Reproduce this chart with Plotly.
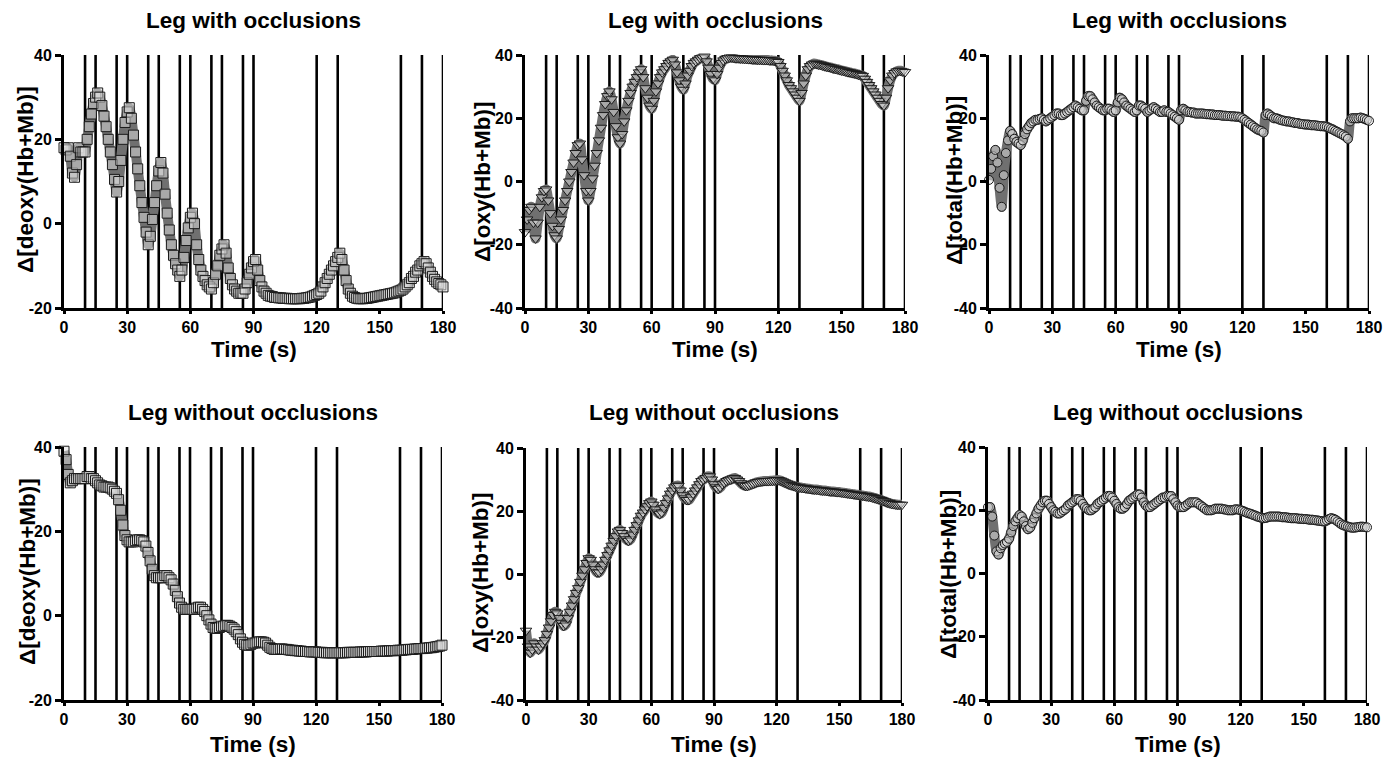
import plotly.graph_objects as go

# ---------------- data ----------------
TIME_S = list(range(0, 181))
OCCLUSION_TIMES = [10, 15, 25, 30, 40, 45, 55, 60, 70, 75, 85, 90, 120, 130, 160, 170, 180]
X_TICKS = [0, 30, 60, 90, 120, 150, 180]

DEOXY_WITH = [
    18, 17.5, 18, 16, 12, 11, 14, 18, 17, 17,
    17, 20, 23, 26, 28.5, 30, 31, 30, 28, 25.5,
    23, 20, 17, 14, 10.5, 7.5, 10, 15, 20, 24,
    26.5, 27.5, 25, 21, 17, 13, 9, 5, 1.5, -2,
    -5, -3, 1, 5, 9, 12.5, 14.5, 12, 7, 2.5,
    -1.5, -5, -7.5, -9.5, -11, -12.5, -11, -8, -4, -1,
    1.5, 2.5, 0, -5, -8.5, -11, -12.5, -13.5, -14.5, -15,
    -15.5, -14, -12, -10, -7.5, -6, -5, -7, -10.5, -13,
    -14.5, -15.5, -16, -16.5, -16.5, -16.5, -15.5, -14, -12, -10.5,
    -9, -8.5, -11, -13.5, -15, -16, -16.5, -17, -17.2, -17.3,
    -17.5, -17.5, -17.6, -17.6, -17.7, -17.7, -17.7, -17.8, -17.8, -17.8,
    -17.8, -17.8, -17.8, -17.7, -17.7, -17.6, -17.5, -17.4, -17.2, -17,
    -16.8, -16.5, -16, -15, -14, -13, -12, -11, -10, -9,
    -8, -7, -8.5, -11, -13.5, -15.5, -16.5, -17.2, -17.5, -17.7,
    -17.8, -17.8, -17.8, -17.7, -17.7, -17.6, -17.5, -17.4, -17.3, -17.2,
    -17.1, -17, -16.9, -16.8, -16.7, -16.6, -16.5, -16.4, -16.2, -16,
    -15.8, -15.5, -15, -14.5, -14, -13, -12.5, -11.5, -11, -10,
    -9.5, -9, -9.5, -10.5, -11.5, -12.5, -13.2, -13.8, -14.2, -14.5,
    -15,
]

OXY_WITH = [
    -16, -12, -9, -8, -13, -18, -13, -8, -5, -3,
    -2.5, -6, -10, -14, -17, -18, -15, -12, -9, -6,
    -3, 0, 3, 6, 9, 11.5, 12, 7, 2, -3,
    -6, -3, 1, 5, 9, 13, 17, 21, 24.5, 27,
    28.5, 26, 22, 17.5, 14, 12, 15, 19, 22.5, 25.5,
    28, 30, 31.5, 33, 34.5, 35.5, 33, 29.5, 26.5, 24,
    23, 25.5, 28.5, 31, 33, 34.5, 35.5, 36.5, 37.5, 38,
    38.5, 37, 34.5, 32, 30, 29, 31, 33.5, 35, 36.5,
    37.5, 38, 38.5, 39, 39.2, 39.5, 38, 36, 34, 32.5,
    32, 34, 36, 37.5, 38.3, 38.8, 39, 39.2, 39.2, 39.1,
    39, 39, 38.9, 38.9, 38.8, 38.8, 38.7, 38.7, 38.6, 38.6,
    38.5, 38.5, 38.5, 38.4, 38.4, 38.4, 38.3, 38.3, 38.2, 38,
    37.8, 36.5, 35, 33.5, 32, 30.5, 29.5, 28.5, 27.5, 26.5,
    25.5, 28, 31, 33.5, 35.5, 36.5, 37, 37.3, 37.2, 37,
    36.9, 36.7, 36.5, 36.3, 36.2, 36, 35.8, 35.6, 35.5, 35.3,
    35.1, 35, 34.8, 34.6, 34.5, 34.3, 34.2, 34, 33.8, 33.6,
    33.4, 32.5, 31.5, 30.5, 29.5, 28.5, 27.5, 26.5, 25.5, 24.5,
    24, 26.5, 29.5, 32, 33.5, 34.3, 34.8, 35, 35, 34.8,
    34.6,
]

TOTAL_WITH = [
    0.5, 4, 8, 10, 6, -2, -8, 2, 9, 13,
    16, 15, 13.5, 12.5, 12, 11.5, 13, 15, 16.5, 17.5,
    18.5, 19, 19.5, 19.5, 19.8, 20, 19.5, 19, 19.5, 20,
    20.5, 21, 21.5, 21.5, 21, 21, 21.5, 22, 22.5, 23,
    23.5, 24, 23.5, 23, 22.5, 22.5, 25.5, 27, 27, 26,
    25, 24, 23.5, 23, 22.5, 22.5, 23, 23, 22.5, 22,
    22.5, 25, 26.5, 26, 25, 24, 23.5, 23, 22.5, 22,
    22.5, 24, 24, 23.5, 23, 22, 22.5, 23, 23.5, 23,
    22.5, 22, 22, 22.5, 22, 22, 21.5, 21, 20.5, 20,
    19.5, 22.5, 23, 22.5, 22, 22, 21.8, 21.8, 21.5, 21.5,
    21.5, 21.5, 21.4, 21.3, 21.3, 21.2, 21.2, 21, 21, 21,
    20.9, 20.8, 20.8, 20.7, 20.7, 20.6, 20.6, 20.5, 20.5, 20.3,
    20, 19.5, 19, 18.5, 18, 17.5, 17, 16.5, 16.2, 16,
    15.5, 21, 21.5, 21, 20.5, 20, 20, 19.8, 19.5, 19.3,
    19.2, 19, 19, 18.8, 18.7, 18.5, 18.5, 18.3, 18.2, 18.1,
    18, 18, 17.9, 17.8, 17.8, 17.7, 17.6, 17.5, 17.5, 17.4,
    17.3, 17, 16.7, 16.4, 16, 15.7, 15.3, 15, 14.6, 14.2,
    13.5, 19, 20, 20, 20, 20, 20.2, 20, 19.8, 19.5,
    19.2,
]

DEOXY_WITHOUT = [
    39, 37, 33.5, 31.5, 32, 32.5, 32.5, 32.5, 32.5, 32.5,
    32.5, 33, 33, 32.5, 32.5, 32, 31.5, 31, 30.8, 30.5,
    30.5, 30.5, 30.3, 30, 29.5, 29, 27.5, 25, 21.5, 19,
    18, 17.5, 17.5, 17.5, 17.8, 18, 18, 17.8, 17.5, 16.5,
    15, 13, 11, 9.5, 9, 9, 9, 9, 9.5, 9.5,
    9, 8.5, 7.5, 6, 4.5, 3, 2, 1.5, 1.5, 1.5,
    1.5, 1.5, 1.5, 1.8, 2, 2, 1.5, 1, 0, -1,
    -2, -2.8, -3, -3, -2.8, -2.5, -2.5, -2.3, -2.3, -2.5,
    -2.8, -3.2, -3.8, -4.5, -5.5, -6.3, -6.8, -7, -7, -6.8,
    -6.5, -6.5, -6.3, -6.2, -6.2, -6.3, -6.5, -7, -7.5, -7.8,
    -8, -8, -8, -7.9, -7.9, -8, -8, -8.1, -8.2, -8.2,
    -8.3, -8.3, -8.4, -8.4, -8.5, -8.5, -8.5, -8.6, -8.6, -8.6,
    -8.6, -8.7, -8.7, -8.7, -8.8, -8.8, -8.8, -8.8, -8.8, -8.8,
    -8.8, -8.8, -8.8, -8.8, -8.8, -8.7, -8.7, -8.7, -8.7, -8.7,
    -8.7, -8.6, -8.6, -8.6, -8.6, -8.5, -8.5, -8.5, -8.5, -8.5,
    -8.5, -8.4, -8.4, -8.4, -8.4, -8.3, -8.3, -8.3, -8.3, -8.2,
    -8.2, -8.2, -8.1, -8.1, -8, -8, -8, -7.9, -7.9, -7.8,
    -7.8, -7.8, -7.7, -7.7, -7.6, -7.6, -7.5, -7.4, -7.3, -7.2,
    -7,
]

OXY_WITHOUT = [
    -18, -23, -25, -24, -22, -23, -24, -23, -22, -21,
    -19, -17, -15, -13, -12, -12.5, -14, -15.5, -16.5, -16,
    -14, -12, -10, -8, -6, -4.5, -2.5, -0.5, 1.5, 3.5,
    5, 4.5, 3, 1.5, 0.5, 0.5, 1.5, 3, 4.5, 6,
    7.5, 9, 10.5, 12, 13.5, 14, 13, 12, 11, 10.5,
    11, 12.5, 14, 15.5, 17, 18.5, 19.5, 20.5, 21.5, 22.5,
    23, 22, 20.5, 19.5, 19, 19.5, 21, 22.5, 24, 25.5,
    26.5, 27.5, 28, 28, 26.5, 25, 24, 23.5, 23.5, 24.5,
    25.5, 26.5, 27.5, 28.5, 29.5, 30, 30.5, 31, 31, 30,
    28.5, 27.5, 27, 27.5, 28.5, 29, 29.5, 29.8, 30, 30.3,
    30.5, 30, 29.5, 28.8, 28.3, 28, 28, 28.2, 28.5, 28.7,
    29, 29.2, 29.3, 29.4, 29.5, 29.5, 29.5, 29.6, 29.6, 29.7,
    29.8, 29.8, 29.6, 29.3, 29, 28.7, 28.4, 28.2, 28, 27.8,
    27.6, 27.5, 27.4, 27.3, 27.2, 27.1, 27, 26.9, 26.8, 26.8,
    26.7, 26.6, 26.5, 26.5, 26.4, 26.3, 26.2, 26.2, 26.1, 26,
    26, 25.9, 25.8, 25.7, 25.6, 25.5, 25.4, 25.3, 25.2, 25.1,
    25, 24.9, 24.8, 24.7, 24.6, 24.5, 24.3, 24.1, 23.9, 23.7,
    23.5, 23.2, 23, 22.7, 22.5, 22.3, 22.2, 22.1, 22, 22,
    22,
]

TOTAL_WITHOUT = [
    21, 21, 18, 12, 7, 6, 8, 9, 9.5, 10,
    11, 13, 15, 16.5, 17.5, 18.5, 18, 16.5, 15, 14,
    14.5, 16, 17.5, 19, 20.5, 21.5, 22.5, 23, 23, 22,
    21, 20, 19.5, 19, 19, 19.5, 20, 20.5, 21.5, 22,
    22.5, 23, 23.5, 23.5, 23, 22, 21, 20.5, 20, 20,
    20.5, 21, 22, 22.5, 23, 23.5, 24, 24.5, 24.5, 24,
    23, 22, 21, 20.5, 20.5, 21, 22, 23, 23.5, 24,
    24.5, 25, 25, 24, 22.5, 21.5, 21, 21, 21.5, 22,
    22.5, 23, 23.5, 24, 24, 24.5, 24.5, 24.5, 23.5, 22.5,
    21.5, 21, 21, 21, 21.5, 22, 22.5, 22.5, 22.5, 22.5,
    22, 21.5, 21, 20.5, 20, 20, 20, 20.2, 20.5, 20.5,
    20.5, 20.5, 20.3, 20.2, 20, 20, 20, 20.2, 20.3, 20.2,
    20, 19.8, 19.5, 19.2, 19, 18.8, 18.5, 18.3, 18, 17.8,
    17.6, 17.5, 17.6, 17.8, 18, 18, 18, 18, 18, 17.9,
    17.8, 17.8, 17.7, 17.6, 17.5, 17.5, 17.5, 17.4, 17.3, 17.3,
    17.2, 17.2, 17.1, 17, 17, 16.9, 16.8, 16.7, 16.6, 16.5,
    16.5, 16.8, 17.2, 17.5, 17.3, 17, 16.5, 16, 15.5, 15.2,
    15, 14.8, 14.6, 14.5, 14.5, 14.6, 14.7, 14.8, 14.8, 14.7,
    14.6,
]

PANEL_TITLES = ["Leg with occlusions"] * 3 + ["Leg without occlusions"] * 3
Y_LABELS = ["Δ[deoxy(Hb+Mb)]", "Δ[oxy(Hb+Mb)]", "Δ[total(Hb+Mb)]"] * 2
Y_RANGES = [[-20, 40], [-40, 40], [-40, 40], [-20, 40], [-40, 40], [-40, 40]]
Y_TICKS = [[-20, 0, 20, 40], [-40, -20, 0, 20, 40], [-40, -20, 0, 20, 40]] * 2
Y_TICK_TEXT = [["-20", "0", "20", "40"], ["-40", "-20", "0", "20", "40"],
               ["-40", "-20", "0", "20", "40"]] * 2
SERIES = [DEOXY_WITH, OXY_WITH, TOTAL_WITH, DEOXY_WITHOUT, OXY_WITHOUT, TOTAL_WITHOUT]
SYMBOLS = ["square", "triangle-down", "circle"] * 2

# ---------------- layout (pixel geometry) ----------------
W, H = 1399, 762
# (left, right, top, bottom) of each plot area in pixels
PANELS = [(64, 443, 55, 308), (525, 905, 55, 308), (989, 1369, 55, 308),
          (64, 442, 447, 700), (526, 902, 448, 700), (988, 1367, 447, 700)]
YLABEL_POS = [(25, 180), (483, 181), (955, 181), (27, 572), (480, 573), (948, 574)]
TITLE_Y = [20, 20, 20, 412, 412, 412]
XTITLE_Y = [349, 349, 349, 744, 744, 744]

FONT = "Liberation Sans, Arial, Helvetica, sans-serif"
BIG = 22.5
TICK = 16

fig = go.Figure()
layout = dict(
    width=W, height=H,
    margin=dict(l=0, r=0, t=0, b=0, pad=0),
    paper_bgcolor="white", plot_bgcolor="white",
    showlegend=False,
    font=dict(family=FONT, color="black"),
)
annotations = []
shapes = []

for i in range(6):
    l, r, t, b = PANELS[i]
    xa = "xaxis" if i == 0 else f"xaxis{i+1}"
    ya = "yaxis" if i == 0 else f"yaxis{i+1}"
    xr = "x" if i == 0 else f"x{i+1}"
    yr = "y" if i == 0 else f"y{i+1}"
    layout[xa] = dict(
        domain=[l / W, r / W], anchor=yr, range=[0, 180], automargin=False,
        tickvals=X_TICKS, ticks="outside", ticklen=3, tickwidth=2.5, tickcolor="black",
        showline=True, linewidth=3, linecolor="black", showgrid=False, zeroline=False,
        tickfont=dict(family=FONT, size=TICK, color="black", weight="bold"),
    )
    layout[ya] = dict(
        domain=[1 - b / H, 1 - t / H], anchor=xr, range=Y_RANGES[i], automargin=False,
        tickvals=Y_TICKS[i], ticktext=Y_TICK_TEXT[i],
        ticks="outside", ticklen=6, tickwidth=2.5, tickcolor="black",
        showline=True, linewidth=3, linecolor="black", showgrid=False, zeroline=False,
        tickfont=dict(family=FONT, size=TICK, color="black", weight="bold"),
    )
    # occlusion markers
    for tv in OCCLUSION_TIMES:
        shapes.append(dict(type="line", xref=xr, yref=f"{yr} domain",
                           x0=tv, x1=tv, y0=0, y1=1,
                           line=dict(color="black", width=2.6), layer="below"))
    # dense band of the recorded trace
    fig.add_trace(go.Scatter(
        x=TIME_S, y=SERIES[i], mode="lines", xaxis=xr, yaxis=yr, cliponaxis=False,
        line=dict(color="#707070", width=10, shape="spline", smoothing=0.6),
        hoverinfo="skip",
    ))
    fig.add_trace(go.Scatter(
        x=TIME_S, y=SERIES[i], mode="markers", xaxis=xr, yaxis=yr,
        cliponaxis=False,
        marker=dict(symbol=SYMBOLS[i], size=10 if SYMBOLS[i] != "circle" else 9,
                    color="rgba(225,225,225,0.5)", line=dict(color="#1a1a1a", width=1)),
    ))
    cx = (l + r) / 2
    annotations.append(dict(text=PANEL_TITLES[i], xref="paper", yref="paper",
                            x=cx / W, y=1 - TITLE_Y[i] / H, xanchor="center", yanchor="middle",
                            showarrow=False,
                            font=dict(family=FONT, size=BIG, color="black", weight="bold")))
    annotations.append(dict(text="Time (s)", xref="paper", yref="paper",
                            x=cx / W, y=1 - XTITLE_Y[i] / H, xanchor="center", yanchor="middle",
                            showarrow=False,
                            font=dict(family=FONT, size=BIG, color="black", weight="bold")))
    px, py = YLABEL_POS[i]
    annotations.append(dict(text=Y_LABELS[i], xref="paper", yref="paper",
                            x=px / W, y=1 - py / H, xanchor="center", yanchor="middle",
                            textangle=-90, showarrow=False,
                            font=dict(family=FONT, size=BIG, color="black", weight="bold")))

layout["annotations"] = annotations
layout["shapes"] = shapes
fig.update_layout(**layout)
fig.write_html(
    "out.html",
    config={"displayModeBar": False},
    post_script="document.documentElement.style.margin='0';document.body.style.margin='0';"
                "document.body.style.overflow='hidden';",
)
